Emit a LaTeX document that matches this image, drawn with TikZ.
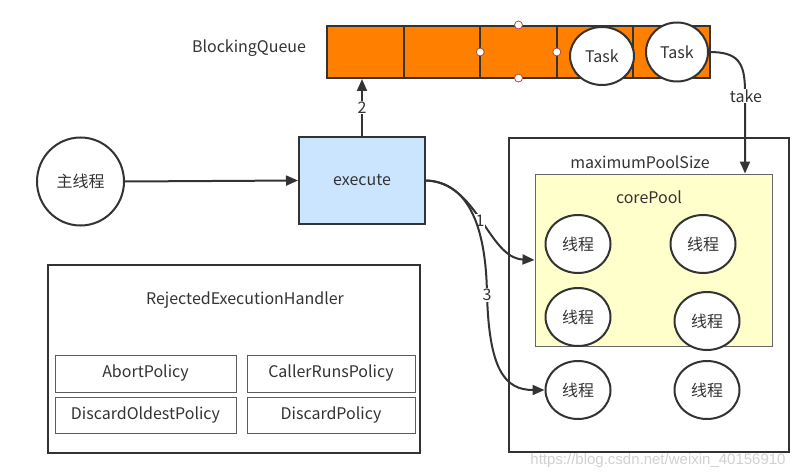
\documentclass[tikz,border=0pt]{standalone}
\usepackage{fontspec}
\setmainfont{Noto Sans CJK SC}
\newfontfamily\wmfont{Liberation Sans}
\usetikzlibrary{arrows.meta,shapes.geometric}
\definecolor{ink}{HTML}{333333}
\definecolor{qorange}{HTML}{FF8000}
\definecolor{exblue}{HTML}{CCE5FF}
\definecolor{coreyel}{HTML}{FFFFCC}
\definecolor{handle}{HTML}{B04A3A}
\begin{document}
\begin{tikzpicture}[x=1pt,y=-1pt,
  every node/.style={text=ink,font=\fontsize{16}{18}\selectfont},
  arr/.style={draw=ink,line width=2pt,-{Triangle[length=12pt,width=10pt]}},
  oval/.style={ellipse,draw=ink,line width=2pt,fill=white,inner sep=0pt},
  thr/.style={oval,minimum width=65pt,minimum height=58pt},
  pol/.style={rectangle,draw=ink!80,line width=1pt,inner sep=0pt},
  lbl/.style={fill=white,inner sep=1pt},
  hnd/.style={circle,draw=handle,fill=white,line width=0.8pt,minimum size=8pt,inner sep=0pt}
]
\useasboundingbox (0,0) rectangle (803,476);
\fill[white] (0,0) rectangle (803,476);

% Blocking queue
\node[rectangle,draw=ink,line width=2pt,fill=qorange,minimum width=383pt,minimum height=52pt,inner sep=0pt] (queue) at (518.5,52) {};
\foreach \xx in {403.6,480.2,556.8,633.4}
  \draw[ink,line width=2pt] (\xx,26) -- (\xx,78);
\node[hnd] (h1) at (480.2,52) {};
\node[hnd] (h2) at (556.8,52) {};
\node[hnd] (h3) at (518.5,25) {};
\node[hnd] (h4) at (518.5,78) {};
\node[oval,minimum width=64pt,minimum height=58pt] (task1) at (602,56) {Task};
\node[oval,minimum width=62pt,minimum height=59pt] (task2) at (677,52) {Task};
\node (bq) at (249,48) {BlockingQueue};

% main thread and execute
\node[oval,minimum width=87pt,minimum height=88pt] (main) at (80.5,181.5) {主线程};
\node[rectangle,draw=ink,line width=2pt,fill=exblue,minimum width=126pt,minimum height=87pt,inner sep=0pt] (exe) at (362,180.5) {execute};
\draw[arr] (main.east) -- (exe.west);
\draw[arr] (exe.north) -- (exe.north |- queue.south) node[lbl,pos=0.5] {2};

% thread pool
\node[rectangle,draw=ink,line width=2pt,minimum width=280pt,minimum height=314pt,inner sep=0pt] (maxpool) at (649,295) {};
\node (maxlbl) at (640,162) {maximumPoolSize};
\node[rectangle,draw=ink!75,line width=1pt,fill=coreyel,minimum width=237pt,minimum height=172pt,inner sep=0pt] (core) at (653.5,260) {};
\node (corelbl) at (649,197) {corePool};
\node[thr] (t1) at (578,244) {线程};
\node[thr] (t2) at (703,244) {线程};
\node[thr] (t3) at (578,317) {线程};
\node[thr] (t4) at (707,321) {线程};
\node[thr] (t5) at (578,390) {线程};
\node[thr] (t6) at (707,390) {线程};

\coordinate (coreIn) at (534.5,260);
\coordinate (coreTop) at (745,173.5);
\draw[arr] (exe.east) .. controls (478,182) and (488,258) .. (coreIn);
\node[lbl] (l1) at (480,221) {1};
\draw[arr] (exe.east) .. controls (470,182) and (486,230) .. (487,294)
  .. controls (489,370) and (505,390) .. (t5.west);
\node[lbl] (l3) at (487,295) {3};
\draw[arr] (task2.east) .. controls (738,52) and (745,62) .. (745,92) -- (coreTop);
\node[lbl] (ltake) at (746,96) {take};

% rejected handler
\node[rectangle,draw=ink,line width=2pt,minimum width=372pt,minimum height=188pt,inner sep=0pt] (rej) at (234,359) {};
\node (rejlbl) at (245,300) {RejectedExecutionHandler};
\node[pol,minimum width=181pt,minimum height=37pt] (p1) at (145.5,373.5) {AbortPolicy};
\node[pol,minimum width=168pt,minimum height=37pt] (p2) at (331,373.5) {CallerRunsPolicy};
\node[pol,minimum width=181pt,minimum height=36pt] (p3) at (145.5,415) {DiscardOldestPolicy};
\node[pol,minimum width=168pt,minimum height=36pt] (p4) at (331,415) {DiscardPolicy};

% watermark
\node[text=black!18,font=\wmfont\fontsize{15}{17}\selectfont] (wm) at (658,461) {https://blog.csdn.net/weixin\_40156910};
\end{tikzpicture}
\end{document}
